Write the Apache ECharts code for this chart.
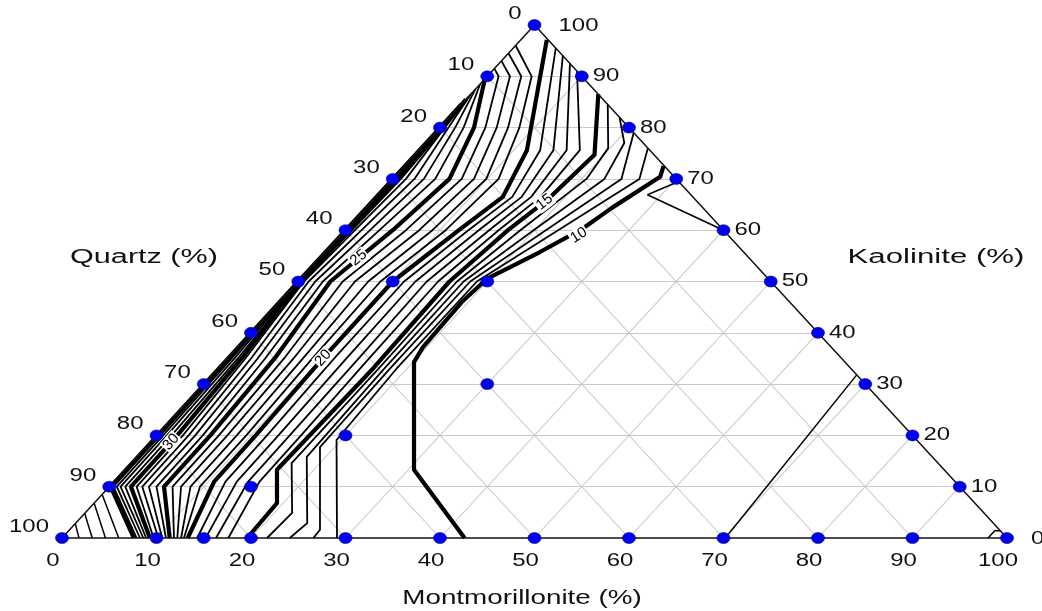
<!DOCTYPE html>
<html>
<head>
<meta charset="utf-8">
<title>Ternary contour diagram</title>
<script src="https://cdn.jsdelivr.net/npm/echarts@6/dist/echarts.min.js"></script>
<style>
  html, body { margin: 0; padding: 0; background: #ffffff; }
  #chart { width: 1042px; height: 611px; }
</style>
</head>
<body>
<div id="chart"></div>
<script>
// Every point is [Montmorillonite %, Kaolinite %]; Quartz % = 100 - both.

// Contour lines, listed from the Montmorillonite axis upwards.
const c10 = [[42.6,0],[30.6,13.3],[20.1,34.3],[19.6,37.2],[19.3,46],[19.7,50.5],[22.7,55.75],[24.9,60.2],[26.0,64.3],[28.1,70.4],[27.4,72.5]];
const c11 = [[29.1,0],[19.5,19.1],[18.9,33],[18.9,50],[22.5,60],[26.1,70],[24.0,76]];
const c12 = [[26.6,0],[26.5,1.6],[18.45,17.7],[18.2,33],[18.2,50],[21.2,60],[24.2,70],[21.0,79]];
const c13 = [[24.1,0],[24.5,2.9],[18.0,15.8],[17.6,33],[17.5,50],[19.9,60],[22.4,70],[21.0,77],[18.0,82]];
const c14 = [[21.7,0],[21.9,4.9],[17.0,14.6],[17.0,33],[16.8,50],[18.5,60],[20.5,70],[19.8,76],[15.5,84.5]];
const c15 = [[19.6,0],[19.35,6.8],[16.1,13.3],[16.4,33],[16.0,50],[17.2,60],[18.4,66],[19.0,74.7],[13.5,86.5]];
const c16 = [[17.6,0],[15.4,11],[15.3,20],[15.0,35],[14.8,50],[16.2,60],[17.4,66.5],[17.0,75.6],[9.0,91]];
const c17 = [[16.3,0],[14.2,11],[14.1,20],[13.9,35],[13.6,50],[15.2,60],[16.4,66.5],[15.6,75.6],[7.5,92.5]];
const c18 = [[15.2,0],[13.0,11],[12.9,20],[12.6,35],[12.4,50],[14.1,60],[15.4,66.5],[14.2,75.6],[6.0,94]];
const c19 = [[14.3,0],[11.8,11],[11.7,20],[11.3,35],[11.2,50],[13.0,60],[14.4,66.5],[12.8,75.6],[4.5,95.5]];
const c20 = [[13.3,0],[10.6,11],[10.5,20],[10.1,35],[10.0,50],[12.0,60],[13.4,66.5],[11.4,75.6],[2.75,97.1]];
const c21 = [[12.9,0],[9.6,10],[9.5,20],[9.0,35],[8.7,50],[10.6,60],[11.2,70],[8.4,80],[4.7,90],[0,96]];
const c22 = [[12.6,0],[8.6,10],[8.5,20],[8.0,35],[7.4,50],[9.2,60],[9.9,70],[7.2,80],[3.6,90],[0,94.5]];
const c23 = [[12.2,0],[7.6,10],[7.5,20],[7.0,35],[6.0,50],[7.8,60],[8.6,70],[6.0,80],[2.4,90],[0,93]];
const c24 = [[11.85,0],[6.7,10],[6.6,20],[6.0,35],[4.7,50],[6.4,60],[7.3,70],[4.8,80],[1.2,90],[0,91.5]];
const c25 = [[11.4,0],[5.8,10],[5.7,20],[5.0,35],[3.4,50],[5.0,60],[6.0,70],[3.6,80],[0,89.5]];
const c26 = [[11.0,0],[5.0,10],[4.9,20],[4.0,35],[2.6,50],[3.6,60],[4.5,70],[2.5,80],[0,88.5]];
const c27 = [[10.6,0],[4.2,10],[4.1,20],[3.2,35],[1.8,50],[2.6,60],[3.3,70],[1.6,80],[0,87.5]];
const c28 = [[10.2,0],[3.5,10],[3.4,20],[2.5,35],[1.1,50],[1.7,60],[2.3,70],[0.9,80],[0,86.5]];
const c29 = [[9.7,0],[2.9,10],[2.8,20],[1.9,35],[0.6,50],[1.0,60],[1.4,70],[0.5,80],[0,86]];
const c30 = [[9.3,0],[2.3,10],[2.2,20],[1.5,35],[0.3,50],[0.5,60],[0.7,70],[0.3,80],[0,85.5]];
const c31 = [[8.9,0],[1.7,10],[1.6,20],[1.1,35],[0.2,50],[0.35,60],[0.45,70],[0.2,80],[0,85.3]];
const c32 = [[8.6,0],[1.2,10],[1.1,20],[0.75,35],[0.14,50],[0.25,60],[0.3,70],[0.12,80],[0,85.1]];
const c33 = [[8.25,0],[0.8,10],[0.7,20],[0.45,35],[0.09,50],[0.15,60],[0.2,70],[0.08,80],[0,84.9]];
const c34 = [[7.9,0],[0.45,10],[0.4,20],[0.25,35],[0.05,50],[0.08,60],[0.1,70],[0.05,80],[0,84.7]];
const c35 = [[7.6,0],[0.15,10],[0.12,20],[0.08,35],[0.02,50],[0.03,60],[0.04,70],[0.02,80],[0,84.5]];

// Short contours near the quartz corner.
const corner34 = [[6.0,0],[0,8.5]];
const corner33 = [[4.6,0],[0,6.8]];
const corner32 = [[3.2,0],[0,4.8]];
const corner31 = [[1.8,0],[0,2.8]];

// Low contours on the kaolinite / montmorillonite side.
const c9Upper = [[30.5,69.5],[28.5,66.9],[40,60]];
const c9Lower = [[70.2,0],[68.2,31.8]];
const c9Corner = [[98.0,0],[98.0,1.4],[98.6,1.4]];

const contourValues = [10,11,12,13,14,15,16,17,18,19,20,21,22,23,24,25,26,27,28,29,30,31,32,33,34,35];
const contourLines = [c10,c11,c12,c13,c14,c15,c16,c17,c18,c19,c20,c21,c22,c23,c24,c25,c26,c27,c28,c29,c30,c31,c32,c33,c34,c35];
const extraLines = [corner34, corner33, corner32, corner31, c9Upper, c9Lower, c9Corner];

// Labelled contour levels: value, position on the line, text angle (deg).
const labelValues = [10, 15, 20, 25, 30];
const labelPositions = [[25.2,59.0],[18.3,65.5],[10.1,35.1],[4.1,54.6],[2.2,18.7]];
const labelAngles = [32, 38, 48, 39, 49];

// Sample compositions (blue dots).
const samplePoints = [
  [0,100],[0,90],[0,80],[0,70],[0,60],[0,50],[0,40],[0,30],[0,20],[0,10],[0,0],
  [10,90],[20,80],[30,70],[40,60],[50,50],[60,40],[70,30],[80,20],[90,10],[100,0],
  [10,0],[15,0],[20,0],[30,0],[40,0],[50,0],[60,0],[70,0],[80,0],[90,0],
  [10,50],[20,50],[30,30],[20,20],[15,10]
];

// Axis ticks.
const quartzTicks = [0,10,20,30,40,50,60,70,80,90,100];
const kaoliniteTicks = [0,10,20,30,40,50,60,70,80,90,100];
const montmorilloniteTicks = [0,10,20,30,40,50,60,70,80,90,100];
const gridTicks = [10,20,30,40,50,60,70,80,90];

// Ternary [M, K] to the cartesian plane used by the hidden axes.
const toXY = (p) => [p[0] + p[1] / 2, p[1]];

const FONT = '"Liberation Sans", Arial, sans-serif';
const TICK_SCALE = 1.33;

const series = [];

// Light grey reference grid at every 10 %.
const gridSegments = [];
gridTicks.forEach(t => {
  gridSegments.push({ coords: [toXY([0, t]), toXY([100 - t, t])] });      // constant kaolinite
  gridSegments.push({ coords: [toXY([t, 0]), toXY([t, 100 - t])] });      // constant montmorillonite
  gridSegments.push({ coords: [toXY([100 - t, 0]), toXY([0, 100 - t])] }); // constant quartz
});
series.push({
  type: 'lines', coordinateSystem: 'cartesian2d', silent: true, z: 1,
  lineStyle: { color: '#c9c9c9', width: 1.1, opacity: 1 },
  data: gridSegments, animation: false
});

// Contour lines; every fifth level drawn heavy.
contourLines.forEach((pts, i) => {
  const v = contourValues[i];
  series.push({
    type: 'line', name: 'contour ' + v, data: pts.map(toXY), symbol: 'none', showSymbol: false,
    clip: false, silent: true, z: 3, animation: false,
    lineStyle: { color: '#000', width: v % 5 === 0 ? 4.2 : 1.8, join: 'round' }
  });
});
extraLines.forEach(pts => {
  series.push({
    type: 'line', data: pts.map(toXY), symbol: 'none', showSymbol: false,
    clip: false, silent: true, z: 3, animation: false,
    lineStyle: { color: '#000', width: 1.5 }
  });
});

// Triangle outline.
series.push({
  type: 'line', data: [[0,0],[100,0],[0,100],[0,0]].map(toXY), symbol: 'none',
  clip: false, silent: true, z: 4, animation: false,
  lineStyle: { color: '#111', width: 1.5 }
});

// Sample points.
series.push({
  type: 'scatter', data: samplePoints.map(toXY), symbol: 'circle', symbolSize: [13, 11],
  clip: false, silent: true, z: 6, animation: false,
  itemStyle: { color: '#0000f2', borderColor: '#00007a', borderWidth: 0.6, opacity: 1 }
});

// Tick labels, placed next to the points on each side.
const tickItems = [];
quartzTicks.forEach(q => tickItems.push({ pos: [0, 100 - q], text: String(q), side: 'left' }));
kaoliniteTicks.forEach(k => tickItems.push({ pos: [100 - k, k], text: String(k), side: 'right', corner: k === 0 || k === 100 }));
montmorilloniteTicks.forEach(m => tickItems.push({ pos: [m, 0], text: String(m), side: 'bottom' }));

series.push({
  type: 'custom', coordinateSystem: 'cartesian2d', silent: true, z: 7, animation: false,
  data: tickItems.map(t => toXY(t.pos)),
  renderItem: (params, api) => {
    const it = tickItems[params.dataIndex];
    const p = api.coord([api.value(0), api.value(1)]);
    let x = p[0], y = p[1], align = 'left';
    if (it.side === 'left') { x -= 13; y -= 11; align = 'right'; }
    else if (it.side === 'right') { x += it.corner ? 24 : 11; y += it.corner ? 1 : 0; align = 'left'; }
    else { x -= 9; y += 23; align = 'center'; }
    return {
      type: 'text', x: x, y: y, scaleX: TICK_SCALE, scaleY: 1,
      style: { text: it.text, font: '18px ' + FONT, fill: '#111', align: align, verticalAlign: 'middle' }
    };
  }
});

// Contour value labels along the lines.
series.push({
  type: 'custom', coordinateSystem: 'cartesian2d', silent: true, z: 8, animation: false,
  data: labelPositions.map(toXY),
  renderItem: (params, api) => {
    const i = params.dataIndex;
    const p = api.coord([api.value(0), api.value(1)]);
    return {
      type: 'text', x: p[0], y: p[1], rotation: labelAngles[i] * Math.PI / 180,
      style: {
        text: String(labelValues[i]), font: '15px ' + FONT, fill: '#000',
        align: 'center', verticalAlign: 'middle', backgroundColor: '#fff', padding: [0, 1]
      }
    };
  }
});

// Axis titles.
const titleStyle = (text) => ({ text: text, font: '20px ' + FONT, fill: '#111', align: 'center', verticalAlign: 'middle' });

const chart = echarts.init(document.getElementById('chart'), null, { renderer: 'canvas' });
chart.setOption({
  animation: false,
  backgroundColor: '#ffffff',
  grid: { left: 62, right: 35, top: 25, bottom: 73, containLabel: false },
  xAxis: { type: 'value', min: 0, max: 100, show: false },
  yAxis: { type: 'value', min: 0, max: 100, show: false },
  graphic: [
    { type: 'text', x: 144, y: 257, scaleX: 1.53, silent: true, style: titleStyle('Quartz (%)') },
    { type: 'text', x: 936, y: 257, scaleX: 1.56, silent: true, style: titleStyle('Kaolinite (%)') },
    { type: 'text', x: 522, y: 598, scaleX: 1.39, silent: true, style: titleStyle('Montmorillonite (%)') }
  ],
  series: series
});
</script>
</body>
</html>
